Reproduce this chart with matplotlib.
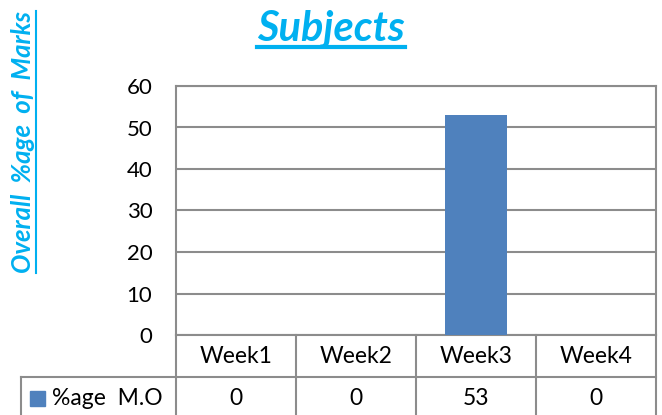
import matplotlib
matplotlib.use("Agg")
import matplotlib.pyplot as plt
from matplotlib.lines import Line2D
from matplotlib.patches import Rectangle
from matplotlib.transforms import blended_transform_factory

weeks = ["Week1", "Week2", "Week3", "Week4"]
marks = [0, 0, 53, 0]
series_name = "%age  M.O"
title = "Subjects"
ylabel = "Overall  %age  of  Marks"

BAR = "#4F81BD"
BLUE = "#00B0F0"
GRID = "#8C8C8C"

plt.rcParams["font.family"] = ["Lato", "DejaVu Sans"]

W, H = 662, 415
fig = plt.figure(figsize=(W / 100, H / 100), dpi=100)
# plot area in pixels: x 176..656, y 86..335
ax = fig.add_axes([176 / W, (H - 335) / H, 480 / W, 249 / H])

x = list(range(len(weeks)))
ax.bar(x, marks, width=0.52, color=BAR, zorder=3)
ax.set_xlim(-0.5, len(weeks) - 0.5)
ax.set_ylim(0, 60)
ax.set_yticks(range(0, 61, 10))
ax.set_xticks([])
ax.tick_params(axis="y", length=0, pad=17, labelsize=16)
ax.grid(axis="y", color=GRID, lw=1.5, zorder=1)
for s in ax.spines.values():
    s.set_color(GRID)
    s.set_linewidth(1.5)

# data table under the plot
row_h = 42 / 249
trans = blended_transform_factory(ax.transData, ax.transAxes)
lk = dict(color=GRID, lw=1.5, clip_on=False, transform=ax.transAxes)
left_cell = (21 - 176) / 480
ax.add_line(Line2D([left_cell, 1], [-row_h, -row_h], **lk))
ax.add_line(Line2D([left_cell, left_cell], [-row_h, -3 * row_h], **lk))
for i in range(len(weeks) + 1):
    xf = i / len(weeks)
    ax.add_line(Line2D([xf, xf], [0, -3 * row_h], **lk))
for i, (wk, v) in enumerate(zip(weeks, marks)):
    ax.text(i, -row_h / 2, wk, transform=trans, ha="center", va="center",
            fontsize=16.5)
    ax.text(i, -1.5 * row_h, str(v), transform=trans, ha="center",
            va="center", fontsize=16.5)

# legend key cell
key_x = (30 - 176) / 480
key_w = 15 / 480
key_h = 15 / 249
ax.add_patch(Rectangle((key_x, -1.5 * row_h - key_h / 2), key_w, key_h,
                       transform=ax.transAxes, color=BAR, clip_on=False))
ax.text((52 - 176) / 480, -1.5 * row_h, series_name, transform=ax.transAxes,
        ha="left", va="center", fontsize=16.5)

# title and y label, underlined like the original
t = fig.text(331 / W, 1 - 29 / H, title, ha="center", va="center",
             fontsize=30, fontweight="bold", fontstyle="italic", color=BLUE)
yl = fig.text(23 / W, 1 - 142 / H, ylabel, ha="center", va="center",
              rotation=90, fontsize=18.5, fontweight="bold", fontstyle="italic",
              color=BLUE)

fig.canvas.draw()
r = fig.canvas.get_renderer()
bb = t.get_window_extent(r)
fig.add_artist(Line2D([bb.x0, bb.x1], [bb.y0 + 1, bb.y0 + 1], color=BLUE,
                      lw=3, transform=None))
bb = yl.get_window_extent(r)
fig.add_artist(Line2D([bb.x1 + 1, bb.x1 + 1], [bb.y0, bb.y1], color=BLUE,
                      lw=1.5, transform=None))

fig.savefig("out.png", dpi=100)
